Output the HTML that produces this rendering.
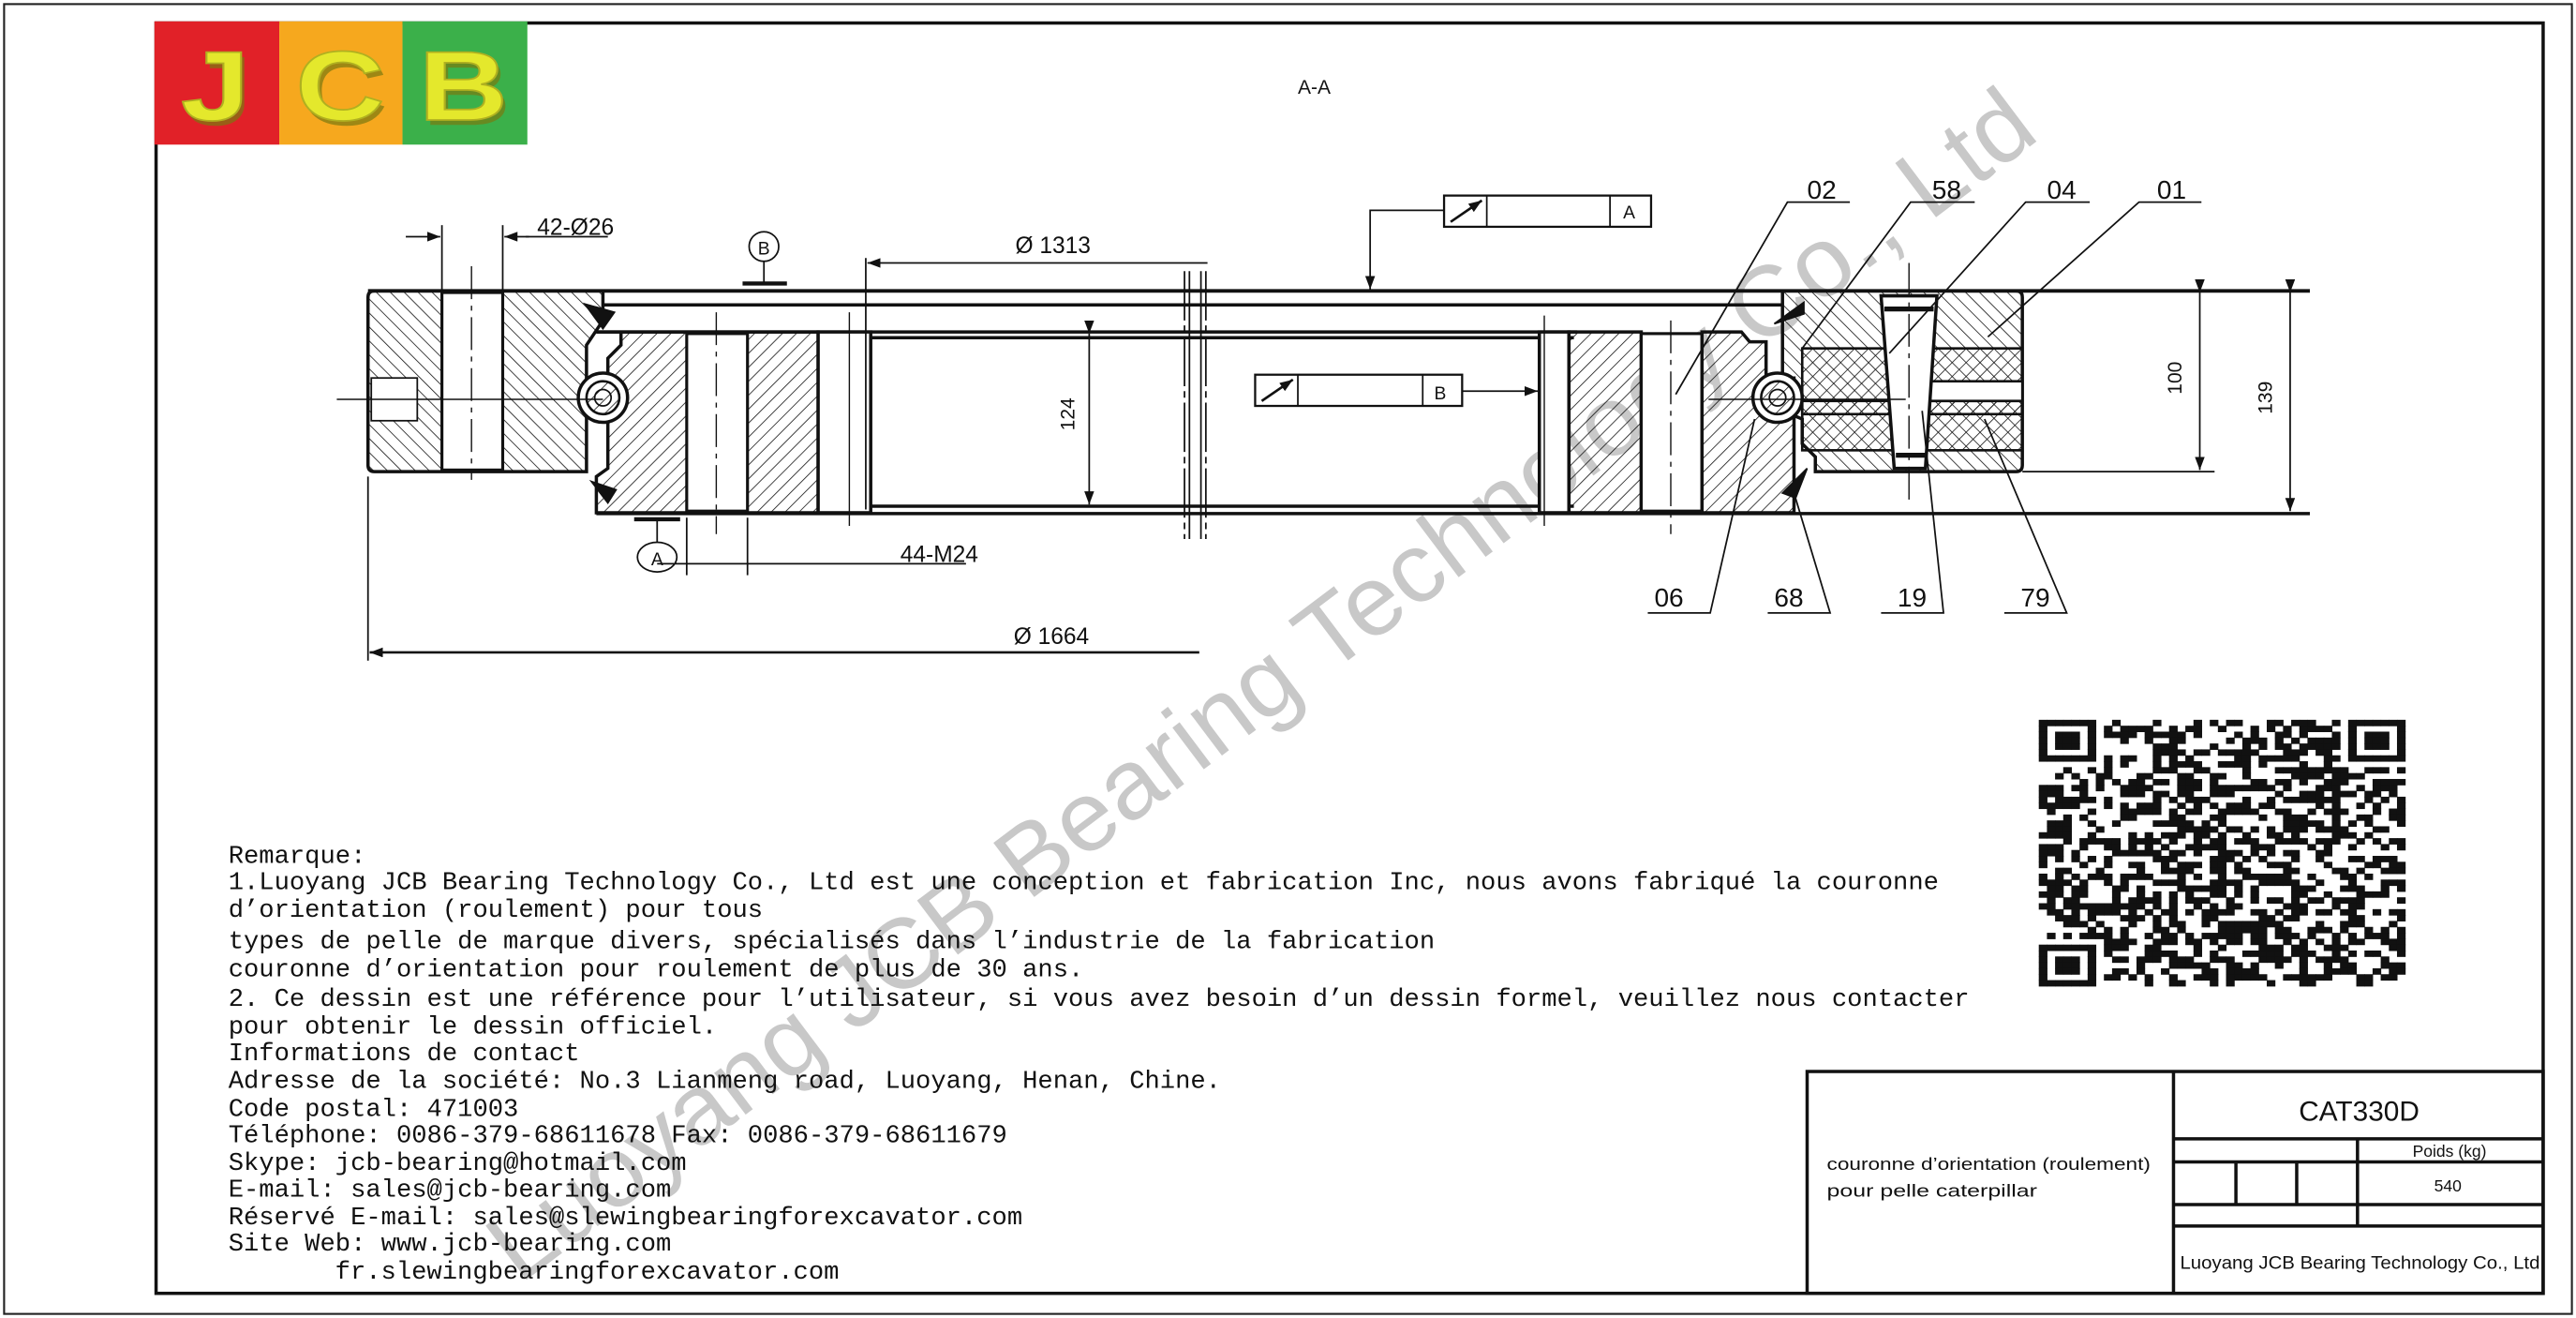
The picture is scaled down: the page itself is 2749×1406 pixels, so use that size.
<!DOCTYPE html>
<html><head><meta charset="utf-8"><style>
html,body{margin:0;padding:0;background:#fff;}
svg{display:block;}
.t{font-family:"Liberation Mono","Noto Sans CJK SC",monospace;font-size:15.5px;fill:#111;}
.d{font-family:"Liberation Sans Narrow","Liberation Sans",sans-serif;fill:#111;}
</style></head><body>
<svg id="s" width="2749" height="1406" viewBox="0 0 1568 802" preserveAspectRatio="none" xmlns="http://www.w3.org/2000/svg">
<defs>
<pattern id="h1" width="6" height="6" patternUnits="userSpaceOnUse" patternTransform="rotate(-45)"><line x1="0" y1="0" x2="0" y2="6" stroke="#111" stroke-width="0.9"/></pattern>
<pattern id="h2" width="6" height="6" patternUnits="userSpaceOnUse" patternTransform="rotate(45)"><line x1="0" y1="0" x2="0" y2="6" stroke="#111" stroke-width="0.9"/></pattern>
<marker id="ar" markerWidth="8" markerHeight="6" refX="8" refY="3" orient="auto" markerUnits="userSpaceOnUse"><path d="M0,0 L8,3 L0,6 z" fill="#111"/></marker>
</defs>
<rect x="0" y="0" width="1568" height="802" fill="#fff"/>
<!-- watermark -->
<text x="770" y="436" text-anchor="middle" font-family="Liberation Sans, sans-serif" font-size="60" fill="#c8c8c8" textLength="1160" lengthAdjust="spacingAndGlyphs" transform="rotate(-37 770 420)">Luoyang JCB Bearing Technology Co., Ltd</text>
<!-- frames -->
<rect x="2.5" y="2.5" width="1563" height="797" fill="none" stroke="#222" stroke-width="1.2"/>
<rect x="95" y="14" width="1453" height="773" fill="none" stroke="#111" stroke-width="2"/>
<!-- logo -->
<rect x="94" y="13" width="76" height="75" fill="#e12128"/>
<rect x="170" y="13" width="75" height="75" fill="#f6a81e"/>
<rect x="245" y="13" width="76" height="75" fill="#3bb04a"/>
<g font-family="Liberation Sans, sans-serif" font-weight="bold" font-size="60" text-anchor="middle">
<g fill="#7a7a10" opacity="0.7">
<text x="133" y="76" transform="translate(133 0) scale(1.25 1) translate(-133 0)">J</text>
<text x="209" y="76" transform="translate(209 0) scale(1.25 1) translate(-209 0)">C</text>
<text x="284" y="76" transform="translate(284 0) scale(1.25 1) translate(-284 0)">B</text>
</g>
<g fill="#e4e82c" stroke="#b0b020" stroke-width="1">
<text x="131" y="73" transform="translate(131 0) scale(1.25 1) translate(-131 0)">J</text>
<text x="207" y="73" transform="translate(207 0) scale(1.25 1) translate(-207 0)">C</text>
<text x="282" y="73" transform="translate(282 0) scale(1.25 1) translate(-282 0)">B</text>
</g>
</g>
<text x="800" y="57" class="d" font-size="12" text-anchor="middle">A-A</text>

<!-- drawing -->
<g stroke="#111" fill="none" stroke-width="1">
<line x1="224" y1="177" x2="1406" y2="177" stroke-width="2.2"/>
<line x1="367" y1="185.5" x2="1085" y2="185.5" stroke-width="2"/>
<line x1="363" y1="202" x2="960" y2="202" stroke-width="2"/>
<line x1="530" y1="205.5" x2="958" y2="205.5" stroke-width="2"/>
<line x1="530" y1="308" x2="958" y2="308" stroke-width="2"/>
<line x1="363" y1="312.5" x2="1406" y2="312.5" stroke-width="2"/>
<line x1="1231" y1="287" x2="1348" y2="287"/>
<path d="M228,177 L367,177 L367,195 L357,210 L357,287 L228,287 Q224,287 224,283 L224,181 Q224,177 228,177 Z" fill="url(#h1)" stroke-width="2"/>
<rect x="269" y="178" width="37" height="108" fill="#fff" stroke-width="1.8"/>
<rect x="226" y="230" width="28" height="26" fill="#fff" stroke-width="1"/>
<path d="M363,202 L498,202 L498,312 L363,312 L363,290 L370,285 L370,218 L378,210 L378,202 Z" fill="url(#h2)" stroke-width="2"/>
<rect x="418" y="203" width="37" height="108" fill="#fff" stroke-width="1.8"/>
<rect x="498" y="202" width="32" height="110" fill="#fff" stroke-width="2"/>
<circle cx="367" cy="242" r="15" fill="#fff" stroke-width="2"/>
<circle cx="367" cy="242" r="10" fill="url(#h2)" stroke-width="1.5"/>
<circle cx="367" cy="242" r="5" stroke-width="1"/>
<path d="M356,185 L374,190 L367,200 Z" fill="#111"/>
<path d="M360,293 L375,298 L370,306 Z" fill="#111"/>
<line x1="205" y1="243" x2="367" y2="243" stroke-width="0.8"/>
<line x1="287" y1="162" x2="287" y2="292" stroke-width="0.8" stroke-dasharray="20,4,3,4"/>
<line x1="436" y1="190" x2="436" y2="325" stroke-width="0.8" stroke-dasharray="20,4,3,4"/>
<line x1="517" y1="190" x2="517" y2="320" stroke-width="0.8"/>
<line x1="721" y1="165" x2="721" y2="328" stroke-dasharray="30,3,4,3"/>
<line x1="724" y1="165" x2="724" y2="328"/>
<line x1="731" y1="165" x2="731" y2="328"/>
<line x1="734" y1="165" x2="734" y2="328" stroke-dasharray="30,3,4,3"/>
<rect x="937" y="202" width="18" height="110" fill="#fff" stroke-width="2"/>
<rect x="955" y="202" width="44" height="110" fill="url(#h2)" stroke-width="2"/>
<rect x="999" y="203" width="37" height="108" fill="#fff" stroke-width="1.8"/>
<path d="M1036,202 L1060,202 L1065,208 L1075,208 L1075,230 L1092,230 L1092,312 L1036,312 Z" fill="url(#h2)" stroke-width="2"/>
<line x1="940" y1="192" x2="940" y2="320" stroke-width="0.8"/>
<line x1="1017" y1="195" x2="1017" y2="325" stroke-width="0.8" stroke-dasharray="20,4,3,4"/>
<path d="M1085,177 L1227,177 Q1231,177 1231,181 L1231,283 Q1231,287 1227,287 L1105,287 L1105,278 L1097,270 L1097,255 L1085,250 L1085,193 Z" fill="url(#h1)" stroke-width="2"/>
<rect x="1097" y="212" width="134" height="40" fill="url(#h2)" stroke-width="1.5"/>
<rect x="1175" y="232" width="56" height="12" fill="#fff" stroke-width="1.5"/>
<rect x="1097" y="244" width="134" height="30" fill="url(#h2)" stroke-width="1.5"/>
<path d="M1145,180 L1179,180 L1172,285 L1153,285 Z" fill="#fff" stroke-width="2"/>
<line x1="1147" y1="188" x2="1177" y2="188" stroke-width="3"/>
<line x1="1154" y1="277" x2="1172" y2="277" stroke-width="3"/>
<line x1="1162" y1="160" x2="1162" y2="305" stroke-width="0.8" stroke-dasharray="20,4,3,4"/>
<circle cx="1082" cy="242" r="15" fill="#fff" stroke-width="2"/>
<circle cx="1082" cy="242" r="10" fill="url(#h2)" stroke-width="1.5"/>
<circle cx="1082" cy="242" r="5" stroke-width="1"/>
<line x1="1040" y1="243" x2="1160" y2="243" stroke-width="0.8"/>
<path d="M1080,197 L1098,184 L1098,191 Z" fill="#111"/>
<path d="M1085,300 L1100,285 L1093,303 Z" fill="#111"/>
<line x1="1339" y1="178" x2="1339" y2="286" marker-start="url(#ar)" marker-end="url(#ar)"/>
<line x1="1394" y1="178" x2="1394" y2="311" marker-start="url(#ar)" marker-end="url(#ar)"/>
<polyline points="1126,123 1088,123 1020,240"/>
<polyline points="1202,123 1163,123 1097,212"/>
<polyline points="1272,123 1233,123 1150,215"/>
<polyline points="1340,123 1302,123 1210,205"/>
<polyline points="1003,373 1041,373 1068,255"/>
<polyline points="1076,373 1114,373 1092,300"/>
<polyline points="1145,373 1183,373 1170,250"/>
<polyline points="1220,373 1258,373 1208,255"/>
<rect x="879" y="119" width="126" height="19" fill="#fff" stroke-width="1.3"/>
<line x1="905" y1="119" x2="905" y2="138"/><line x1="980" y1="119" x2="980" y2="138"/>
<line x1="883" y1="135" x2="902" y2="122" stroke-width="1.5" marker-end="url(#ar)"/>
<polyline points="879,128 834,128 834,176" marker-end="url(#ar)"/>
<rect x="764" y="228" width="126" height="19" fill="#fff" stroke-width="1.3"/>
<line x1="790" y1="228" x2="790" y2="247"/><line x1="866" y1="228" x2="866" y2="247"/>
<line x1="768" y1="244" x2="787" y2="231" stroke-width="1.5" marker-end="url(#ar)"/>
<line x1="890" y1="238" x2="936" y2="238" marker-end="url(#ar)"/>
<circle cx="465" cy="150" r="9" fill="#fff"/>
<line x1="465" y1="159" x2="465" y2="172"/>
<line x1="452" y1="172.5" x2="479" y2="172.5" stroke-width="2.5"/>
<ellipse cx="400" cy="339" rx="12" ry="9" fill="#fff"/>
<line x1="400" y1="330" x2="400" y2="316"/>
<line x1="386" y1="316" x2="414" y2="316" stroke-width="2.5"/>
<line x1="269" y1="137" x2="269" y2="177"/><line x1="306" y1="137" x2="306" y2="177"/>
<line x1="247" y1="144" x2="268" y2="144" marker-end="url(#ar)"/>
<line x1="322" y1="144" x2="307" y2="144" marker-end="url(#ar)"/>
<line x1="320" y1="144" x2="370" y2="144"/>
<line x1="527" y1="157" x2="527" y2="310"/>
<line x1="735" y1="160" x2="528" y2="160" marker-end="url(#ar)"/>
<line x1="663" y1="203" x2="663" y2="307" marker-start="url(#ar)" marker-end="url(#ar)"/>
<line x1="418" y1="315" x2="418" y2="350"/><line x1="455" y1="315" x2="455" y2="350"/>
<line x1="400" y1="343" x2="588" y2="343"/>
<line x1="224" y1="290" x2="224" y2="402"/>
<line x1="730" y1="397" x2="225" y2="397" stroke-width="1.5" marker-end="url(#ar)"/>
</g>
<g class="d" font-size="14">
<text x="327" y="143">42-Ø26</text>
<text x="618" y="154">Ø 1313</text>
<text x="548" y="342">44-M24</text>
<text x="617" y="392">Ø 1664</text>
<text x="465" y="155" text-anchor="middle" font-size="11">B</text>
<text x="400" y="344" text-anchor="middle" font-size="11">A</text>
<text x="988" y="133" font-size="11">A</text>
<text x="873" y="243" font-size="11">B</text>
<text x="1100" y="121" font-size="16">02</text>
<text x="1176" y="121" font-size="16">58</text>
<text x="1246" y="121" font-size="16">04</text>
<text x="1313" y="121" font-size="16">01</text>
<text x="1007" y="369" font-size="16">06</text>
<text x="1080" y="369" font-size="16">68</text>
<text x="1155" y="369" font-size="16">19</text>
<text x="1230" y="369" font-size="16">79</text>
<text transform="translate(654,252) rotate(-90)" text-anchor="middle" font-size="12">124</text>
<text transform="translate(1328,230) rotate(-90)" text-anchor="middle" font-size="12">100</text>
<text transform="translate(1383,242) rotate(-90)" text-anchor="middle" font-size="12">139</text>
</g>

<g class="t">
<text x="139" y="525">Remarque:</text>
<text x="139" y="541">1.Luoyang JCB Bearing Technology Co., Ltd est une conception et fabrication Inc, nous avons fabriqué la couronne</text>
<text x="139" y="558">d’orientation (roulement) pour tous</text>
<text x="139" y="577">types de pelle de marque divers, spécialisés dans l’industrie de la fabrication</text>
<text x="139" y="594">couronne d’orientation pour roulement de plus de 30 ans.</text>
<text x="139" y="612">2. Ce dessin est une référence pour l’utilisateur, si vous avez besoin d’un dessin formel, veuillez nous contacter</text>
<text x="139" y="629">pour obtenir le dessin officiel.</text>
<text x="139" y="645">Informations de contact</text>
<text x="139" y="662">Adresse de la société: No.3 Lianmeng road, Luoyang, Henan, Chine.</text>
<text x="139" y="679">Code postal: 471003</text>
<text x="139" y="695">Téléphone: 0086-379-68611678 Fax: 0086-379-68611679</text>
<text x="139" y="712">Skype: jcb-bearing@hotmail.com</text>
<text x="139" y="728">E-mail: sales@jcb-bearing.com</text>
<text x="139" y="745">Réservé E-mail: sales@slewingbearingforexcavator.com</text>
<text x="139" y="761">Site Web: www.jcb-bearing.com</text>
<text x="204" y="778">fr.slewingbearingforexcavator.com</text>
</g>

<g id="qr"></g>

<g stroke="#111" fill="none" stroke-width="2">
<rect x="1100" y="652" width="448" height="135"/>
<line x1="1323" y1="652" x2="1323" y2="787"/>
<line x1="1323" y1="693" x2="1548" y2="693"/>
<line x1="1323" y1="707" x2="1548" y2="707"/>
<line x1="1323" y1="733" x2="1548" y2="733"/>
<line x1="1323" y1="746" x2="1548" y2="746"/>
<line x1="1435" y1="693" x2="1435" y2="746"/>
<line x1="1361" y1="707" x2="1361" y2="733"/>
<line x1="1398" y1="707" x2="1398" y2="733"/>
</g>
<g class="d">
<text x="1112" y="712" font-size="10.5" textLength="197" lengthAdjust="spacingAndGlyphs">couronne d’orientation (roulement)</text>
<text x="1112" y="728" font-size="10.5" textLength="128" lengthAdjust="spacingAndGlyphs">pour pelle caterpillar</text>
<text x="1436" y="682" font-size="17" text-anchor="middle">CAT330D</text>
<text x="1491" y="704" font-size="10" text-anchor="middle">Poids (kg)</text>
<text x="1490" y="725" font-size="10" text-anchor="middle">540</text>
<text x="1327" y="772" font-size="11" textLength="219" lengthAdjust="spacingAndGlyphs">Luoyang JCB Bearing Technology Co., Ltd</text>
</g>
</svg>
<script>
(function(){
var g=document.getElementById('qr'),N=45,x0=1241,y0=438,W=223,H=162,cw=W/N,ch=H/N,seed=12345;
function r(){seed=(seed*1103515245+12345)%2147483648;return seed/2147483648;}
function fin(i,j,a,b){var di=i-a,dj=j-b;if(di<0||dj<0||di>6||dj>6)return -1;
 if(di==0||dj==0||di==6||dj==6)return 1;if(di>=2&&di<=4&&dj>=2&&dj<=4)return 1;return 0;}
var s='';
for(var j=0;j<N;j++)for(var i=0;i<N;i++){
 var v=-1,f=[[0,0],[N-7,0],[0,N-7]];
 for(var k=0;k<3;k++){var t=fin(i,j,f[k][0],f[k][1]);if(t>=0)v=t;}
 if(v<0){ if((i==7&&j<8)||(j==7&&i<8)||(i==N-8&&j<8)||(j==7&&i>N-9)||(i==7&&j>N-9)||(j==N-8&&i<8))v=0; else v=r()<0.5?1:0;}
 if(v)s+='<rect x="'+(x0+i*cw).toFixed(2)+'" y="'+(y0+j*ch).toFixed(2)+'" width="'+(cw+0.3).toFixed(2)+'" height="'+(ch+0.3).toFixed(2)+'" fill="#111"/>';
}
g.innerHTML=s;
})();
</script>
</body></html>
